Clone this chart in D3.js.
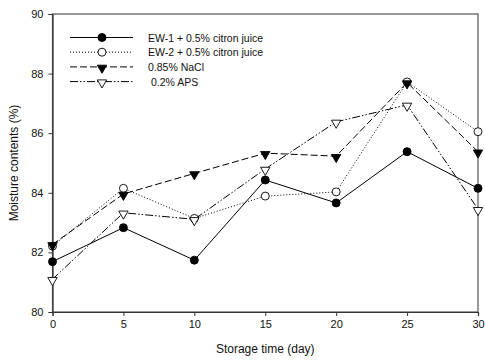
<!DOCTYPE html>
<html>
<head>
<meta charset="utf-8">
<script src="https://cdn.jsdelivr.net/npm/d3@7"></script>
<style>
  body { margin: 0; background: #fff; }
  text { font-family: "Liberation Sans", Arial, sans-serif; fill: #111; }
</style>
</head>
<body>
<div id="chart"></div>
<script>
// data
const days = [0, 5, 10, 15, 20, 25, 30];
const ew1  = [81.69, 82.83, 81.74, 84.43, 83.66, 85.38, 84.15];
const ew2  = [82.21, 84.15, 83.14, 83.89, 84.03, 87.72, 86.05];
const nacl = [82.27, 83.96, 84.65, 85.33, 85.23, 87.70, 85.38];
const aps  = [81.10, 83.33, 83.11, 84.80, 86.38, 86.95, 83.45];
const yTicks = [80, 82, 84, 86, 88, 90];

const series = [
  { name: "EW-1 + 0.5% citron juice", values: ew1,  dash: null,              marker: "circle", fill: "#000" },
  { name: "EW-2 + 0.5% citron juice", values: ew2,  dash: "1,2",             marker: "circle", fill: "#fff" },
  { name: "0.85% NaCl",               values: nacl, dash: "7,3",             marker: "tri",    fill: "#000" },
  { name: " 0.2% APS",                values: aps,  dash: "8,2,1.5,2,1.5,2", marker: "tri",    fill: "#fff" }
];

const margin = { top: 14, right: 7, bottom: 51, left: 52.5 },
  width = 485 - margin.left - margin.right,
  height = 363 - margin.top - margin.bottom;

const svg = d3.select("#chart").append("svg")
  .attr("width", 485).attr("height", 363)
  .append("g")
  .attr("transform", `translate(${margin.left},${margin.top})`);

const x = d3.scaleLinear().domain([0, 30]).range([0, width]);
const y = d3.scaleLinear().domain([80, 90]).range([height, 0]);

// frame
svg.append("rect")
  .attr("width", width).attr("height", height)
  .attr("fill", "none").attr("stroke", "#555").attr("stroke-width", 1.2);

// axes
const xAxis = svg.append("g")
  .attr("transform", `translate(0,${height})`)
  .call(d3.axisBottom(x).tickValues(days).tickSize(4).tickPadding(4));
const yAxis = svg.append("g")
  .call(d3.axisLeft(y).tickValues(yTicks).tickSize(4).tickPadding(5));

[xAxis, yAxis].forEach(g => {
  g.select(".domain").attr("stroke", "#333").attr("stroke-width", 1.2);
  g.selectAll(".tick line").attr("stroke", "#333");
  g.selectAll("text").attr("font-size", "11px")
    .attr("font-family", "Liberation Sans, Arial, sans-serif").attr("fill", "#111");
});

const line = d3.line()
  .x((d, i) => x(days[i]))
  .y(d => y(d));

const tri = d3.symbol().type(d3.symbolTriangle).size(38);

function drawMarker(g, s, cx, cy) {
  if (s.marker === "circle") {
    g.append("circle")
      .attr("cx", cx).attr("cy", cy).attr("r", 4)
      .attr("fill", s.fill).attr("stroke", "#000").attr("stroke-width", 0.9);
  } else {
    g.append("path")
      .attr("d", tri)
      .attr("transform", `translate(${cx},${cy + 1}) rotate(180)`)
      .attr("fill", s.fill).attr("stroke", "#000").attr("stroke-width", 0.9);
  }
}

// lines + markers
series.forEach(s => {
  svg.append("path")
    .datum(s.values)
    .attr("d", line)
    .attr("fill", "none")
    .attr("stroke", "#000")
    .attr("stroke-width", 1)
    .attr("stroke-dasharray", s.dash);
});
series.forEach(s => {
  const g = svg.append("g");
  s.values.forEach((v, i) => drawMarker(g, s, x(days[i]), y(v)));
});

// legend
const legend = svg.append("g").attr("transform", "translate(17.5,23.5)");
series.forEach((s, i) => {
  const row = legend.append("g").attr("transform", `translate(0,${i * 14.7})`);
  row.append("line")
    .attr("x1", 0).attr("x2", 63)
    .attr("stroke", "#000").attr("stroke-width", 1)
    .attr("stroke-dasharray", s.dash);
  drawMarker(row, s, 32, 0);
  row.append("text")
    .attr("x", 78).attr("y", 4)
    .attr("font-size", "10.5px")
    .attr("xml:space", "preserve")
    .style("white-space", "pre")
    .text(s.name);
});

// axis titles
svg.append("text")
  .attr("x", width / 2).attr("y", height + 41)
  .attr("text-anchor", "middle")
  .attr("font-size", "12px")
  .text("Storage time (day)");

svg.append("text")
  .attr("transform", `translate(-35,${height / 2}) rotate(-90)`)
  .attr("text-anchor", "middle")
  .attr("font-size", "12px")
  .text("Moisture contents (%)");
</script>
</body>
</html>
